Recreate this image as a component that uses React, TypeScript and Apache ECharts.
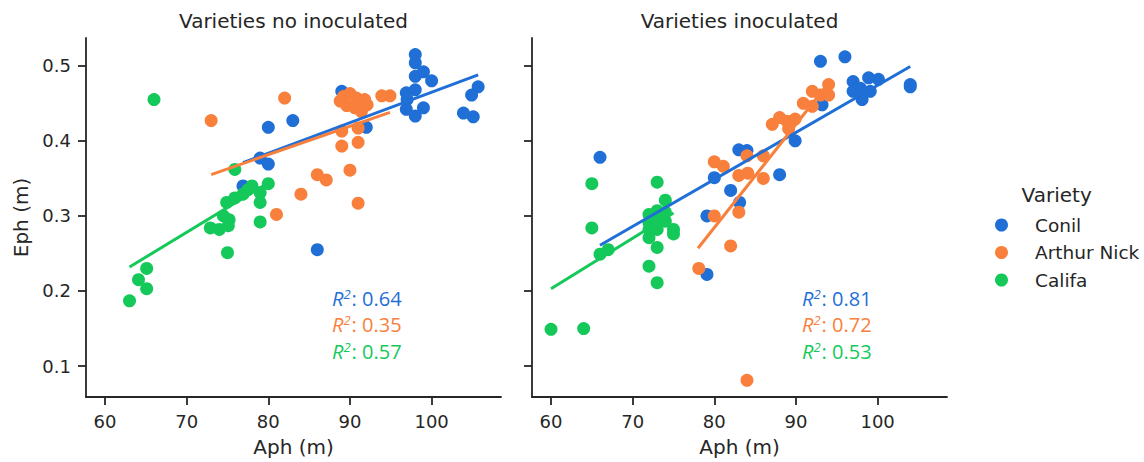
import React, { useEffect, useRef } from "react";
import * as echarts from "echarts";

const varieties = ["Conil", "Arthur Nick", "Califa"];
const colors = ["#1f6fd6", "#f9803c", "#14c95a"];
const panelTitles = ["Varieties no inoculated", "Varieties inoculated"];
const xTicks = [60, 70, 80, 90, 100];
const yTicks = [0.1, 0.2, 0.3, 0.4, 0.5];

// Left panel (no inoculated)
const leftConilX = [98, 98, 99, 98, 100, 98, 96.9, 97, 96.9, 98, 99, 104.9, 105.7, 103.9, 105.1, 89, 92, 80, 83, 79, 80, 76.9, 86];
const leftConilY = [0.515, 0.504, 0.492, 0.486, 0.48, 0.468, 0.464, 0.455, 0.442, 0.433, 0.444, 0.461, 0.472, 0.437, 0.432, 0.466, 0.418, 0.418, 0.427, 0.377, 0.369, 0.34, 0.255];
const leftArthurX = [82, 73, 89.2, 90, 90.8, 91.8, 92.1, 88.8, 89.6, 90.6, 91.4, 91, 93.9, 94.9, 91, 89, 89, 91, 86, 87.1, 90, 84, 81, 91];
const leftArthurY = [0.457, 0.427, 0.459, 0.463, 0.457, 0.455, 0.448, 0.453, 0.447, 0.444, 0.439, 0.451, 0.46, 0.46, 0.417, 0.413, 0.393, 0.398, 0.355, 0.348, 0.361, 0.329, 0.302, 0.317];
const leftCalifaX = [66, 75.9, 63, 64.1, 65.1, 65.1, 75, 79, 72.9, 74, 75.1, 75.2, 74.9, 75.9, 76.9, 78, 79, 80, 79, 74.5, 77.5];
const leftCalifaY = [0.455, 0.362, 0.187, 0.215, 0.23, 0.203, 0.251, 0.292, 0.284, 0.282, 0.287, 0.295, 0.318, 0.324, 0.329, 0.34, 0.331, 0.343, 0.318, 0.3, 0.335];
const leftFitX = [[76.9, 105.7], [73, 94.9], [63, 80]];
const leftFitY = [[0.371, 0.488], [0.355, 0.438], [0.232, 0.344]];
const leftR2 = ["0.64", "0.35", "0.57"];

// Right panel (inoculated)
const rightConilX = [93, 96, 97, 98.9, 100.1, 104, 104, 97, 98.1, 99.1, 97.9, 93.2, 89.9, 83, 84, 88, 80, 82, 83.1, 79.1, 79.1, 66];
const rightConilY = [0.506, 0.512, 0.479, 0.484, 0.482, 0.475, 0.472, 0.466, 0.455, 0.466, 0.47, 0.448, 0.4, 0.388, 0.387, 0.355, 0.351, 0.334, 0.318, 0.3, 0.222, 0.378];
const rightArthurX = [84, 78.1, 82, 80, 83, 80, 81.1, 84, 83, 84.1, 86, 86, 87.1, 88, 88.9, 89.9, 89.1, 90.9, 92, 92, 93, 94, 94];
const rightArthurY = [0.081, 0.23, 0.26, 0.3, 0.305, 0.372, 0.366, 0.38, 0.354, 0.357, 0.35, 0.38, 0.422, 0.431, 0.426, 0.429, 0.416, 0.45, 0.446, 0.466, 0.461, 0.475, 0.461];
const rightCalifaX = [60, 64, 65, 65, 66, 67, 73, 74, 72, 73, 74, 72, 73, 74, 72, 73, 75, 75, 72, 73, 72, 73];
const rightCalifaY = [0.149, 0.15, 0.343, 0.284, 0.249, 0.255, 0.345, 0.321, 0.302, 0.307, 0.305, 0.291, 0.293, 0.293, 0.282, 0.282, 0.282, 0.276, 0.271, 0.258, 0.233, 0.211];
const rightFitX = [[66, 104], [78, 94], [60, 75]];
const rightFitY = [[0.261, 0.499], [0.257, 0.477], [0.203, 0.304]];
const rightR2 = ["0.81", "0.72", "0.53"];

const FONT = "DejaVu Sans";
const INK = "#262626";

function zip(xs: number[], ys: number[]) {
  return xs.map((x, i) => [x, ys[i]]);
}

export default function App() {
  const ref = useRef<HTMLDivElement>(null);
  useEffect(() => {
    document.body.style.margin = "0";
    const chart = echarts.init(ref.current!, null, { renderer: "svg" });

    const panels = [
      { xs: [leftConilX, leftArthurX, leftCalifaX], ys: [leftConilY, leftArthurY, leftCalifaY], fx: leftFitX, fy: leftFitY, r2: leftR2 },
      { xs: [rightConilX, rightArthurX, rightCalifaX], ys: [rightConilY, rightArthurY, rightCalifaY], fx: rightFitX, fy: rightFitY, r2: rightR2 },
    ];
    const grids = [
      { left: 86, top: 38, width: 415, height: 360 },
      { left: 532, top: 38, width: 415, height: 360 },
    ];

    const series: any[] = [];
    panels.forEach((p, pi) => {
      varieties.forEach((v, vi) => {
        series.push({
          type: "scatter",
          name: v,
          xAxisIndex: pi,
          yAxisIndex: pi,
          data: zip(p.xs[vi], p.ys[vi]),
          symbolSize: 13,
          itemStyle: { color: colors[vi], opacity: 1 },
        });
        series.push({
          type: "line",
          name: v,
          xAxisIndex: pi,
          yAxisIndex: pi,
          data: zip(p.fx[vi], p.fy[vi]),
          showSymbol: false,
          symbol: "none",
          lineStyle: { color: colors[vi], width: 3 },
          itemStyle: { color: colors[vi] },
        });
      });
    });

    const axisCommon = {
      axisLine: { show: true, onZero: false, lineStyle: { color: INK, width: 1.8 } },
      axisTick: { show: true, length: 8, lineStyle: { color: INK, width: 1.8 } },
      splitLine: { show: false },
    };

    const xAxis = grids.map((_, i) => ({
      type: "value",
      gridIndex: i,
      min: 57.67,
      max: 108.5,
      ...axisCommon,
      axisTick: { ...axisCommon.axisTick, customValues: xTicks },
      axisLabel: { customValues: xTicks, fontSize: 18, fontFamily: FONT, color: INK, margin: 15 },
      name: "Aph (m)",
      nameLocation: "middle",
      nameGap: 40,
      nameTextStyle: { fontSize: 20, fontFamily: FONT, color: INK },
    }));
    const yAxis = grids.map((_, i) => ({
      type: "value",
      gridIndex: i,
      min: 0.0588,
      max: 0.537,
      ...axisCommon,
      axisTick: { ...axisCommon.axisTick, customValues: yTicks },
      axisLabel: {
        show: i === 0,
        customValues: yTicks,
        formatter: (v: number) => v.toFixed(1),
        fontSize: 18,
        fontFamily: FONT,
        color: INK,
        margin: 15,
      },
      name: i === 0 ? "Eph (m)" : "",
      nameLocation: "middle",
      nameGap: 55,
      nameRotate: 90,
      nameTextStyle: { fontSize: 20, fontFamily: FONT, color: INK },
    }));

    const graphic: any[] = [];
    panelTitles.forEach((t, i) => {
      graphic.push({
        type: "text",
        x: grids[i].left + grids[i].width / 2,
        y: 21,
        style: { text: t, fontSize: 20, fontFamily: FONT, fill: INK, align: "center", verticalAlign: "middle" },
      });
    });
    const r2Left = [332, 802];
    panels.forEach((p, pi) => {
      p.r2.forEach((r, vi) => {
        graphic.push({
          type: "text",
          x: r2Left[pi],
          y: 298 + vi * 26.5,
          style: {
            text: `{r|R}{s|2}{n|: ${r}}`,
            verticalAlign: "middle",
            fill: colors[vi],
            rich: {
              r: { fontSize: 20, fontStyle: "italic", fontFamily: "Open Sans", fill: colors[vi] },
              s: { fontSize: 13, fontStyle: "italic", fontFamily: "Open Sans", fill: colors[vi], padding: [0, 1, 9, 0] },
              n: { fontSize: 20, fontFamily: "Open Sans", fill: colors[vi] },
            },
          },
        });
      });
    });
    graphic.push({
      type: "text",
      x: 1056.7,
      y: 195,
      style: { text: "Variety", fontSize: 20, fontFamily: FONT, fill: INK, align: "center", verticalAlign: "middle" },
    });

    chart.setOption({
      animation: false,
      grid: grids,
      xAxis,
      yAxis,
      series,
      graphic,
      legend: {
        data: varieties.map((v) => ({ name: v, icon: "circle" })),
        orient: "vertical",
        left: 990,
        top: 210,
        itemWidth: 13,
        itemHeight: 13,
        itemGap: 7.5,
        textStyle: { fontSize: 18.5, fontFamily: FONT, color: INK, lineHeight: 20, padding: [0, 0, 0, 22] },
      },
    });
    return () => chart.dispose();
  }, []);
  return <div ref={ref} style={{ width: 1144, height: 462 }} />;
}
